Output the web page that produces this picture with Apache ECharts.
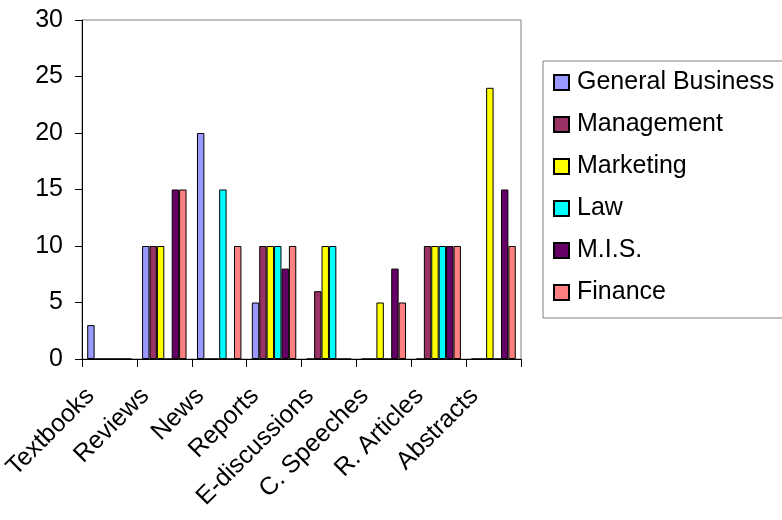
<!DOCTYPE html>
<html>
<head>
<meta charset="utf-8">
<script src="https://cdn.jsdelivr.net/npm/echarts@6/dist/echarts.min.js"></script>
<style>
  html, body { margin: 0; padding: 0; background: #ffffff; }
  #chart { width: 782px; height: 520px; }
</style>
</head>
<body>
<div id="chart"></div>
<script>
// Resource types consulted, grouped by discipline
const categories = ['Textbooks', 'Reviews', 'News', 'Reports', 'E-discussions', 'C. Speeches', 'R. Articles', 'Abstracts'];

const generalBusiness = [3, 10, 20, 5, 0, 0, 0, 0];
const management      = [0, 10, 0, 10, 6, 0, 10, 0];
const marketing       = [0, 10, 0, 10, 10, 5, 10, 24];
const law             = [0, 0, 15, 10, 10, 0, 10, 0];
const mis             = [0, 15, 0, 8, 0, 8, 10, 15];
const finance         = [0, 15, 10, 10, 0, 5, 10, 10];

const yTicks = { min: 0, max: 30, interval: 5 };

const seriesDefs = [
  { name: 'General Business', data: generalBusiness, color: '#9999FF' },
  { name: 'Management',       data: management,      color: '#993366' },
  { name: 'Marketing',        data: marketing,       color: '#FFFF00' },
  { name: 'Law',              data: law,             color: '#00FFFF' },
  { name: 'M.I.S.',           data: mis,             color: '#660066' },
  { name: 'Finance',          data: finance,         color: '#FF8080' }
];

const FONT = '"Liberation Sans", Arial, sans-serif';

const chart = echarts.init(document.getElementById('chart'), null, { renderer: 'canvas' });

chart.setOption({
  animation: false,
  backgroundColor: '#ffffff',
  textStyle: { fontFamily: FONT },
  grid: {
    left: 82, top: 20, right: 261, bottom: 161,
    containLabel: false,
    outerBoundsMode: 'none',
    show: true,
    borderColor: '#808080',
    borderWidth: 1,
    backgroundColor: 'transparent'
  },
  legend: {
    orient: 'vertical',
    left: 543,
    top: 61,
    padding: [9, 30, 13, 10],
    itemGap: 17,
    itemWidth: 15,
    itemHeight: 15,
    borderColor: '#808080',
    borderWidth: 1,
    backgroundColor: '#ffffff',
    icon: 'rect',
    textStyle: { fontFamily: FONT, fontSize: 25, color: '#000000', lineHeight: 25, padding: [0, 0, 0, 3] },
    data: seriesDefs.map(s => s.name)
  },
  xAxis: {
    type: 'category',
    data: categories,
    boundaryGap: true,
    axisLine: { lineStyle: { color: '#000000', width: 1 } },
    axisTick: { show: true, alignWithLabel: false, length: 8, lineStyle: { color: '#000000' } },
    axisLabel: {
      interval: 0,
      rotate: 45,
      margin: 14,
      padding: [26, 27, 0, 0],
      fontFamily: FONT,
      fontSize: 25,
      color: '#000000'
    },
    splitLine: { show: false }
  },
  yAxis: {
    type: 'value',
    min: yTicks.min,
    max: yTicks.max,
    interval: yTicks.interval,
    axisLine: { show: true, lineStyle: { color: '#000000', width: 1 } },
    axisTick: { show: true, length: 7, lineStyle: { color: '#000000' } },
    axisLabel: { margin: 19, fontFamily: FONT, fontSize: 25, color: '#000000' },
    splitLine: { show: false }
  },
  series: seriesDefs.map(s => ({
    name: s.name,
    type: 'bar',
    data: s.data,
    barGap: '0%',
    barCategoryGap: '19%',
    itemStyle: { color: s.color, borderColor: '#000000', borderWidth: 1 }
  }))
});
</script>
</body>
</html>
